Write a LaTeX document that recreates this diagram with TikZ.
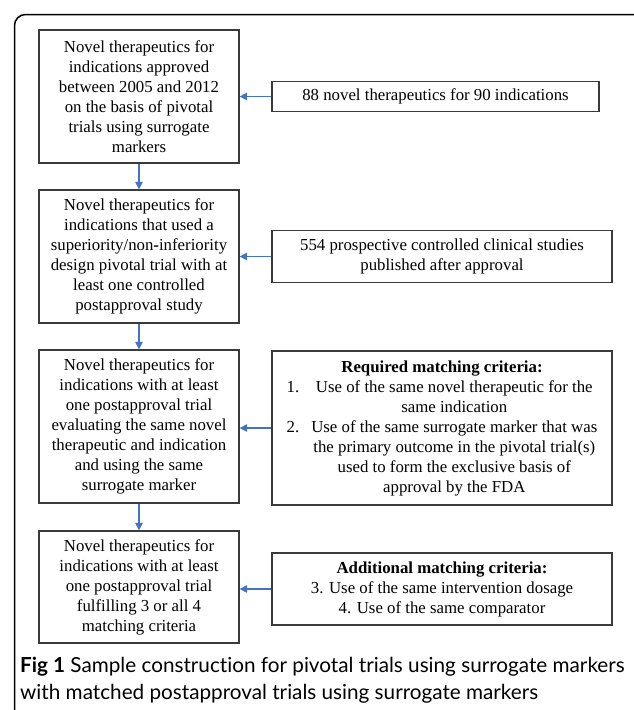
\documentclass[tikz,border=0pt]{standalone}
\usepackage{fontspec}
\setmainfont{Liberation Serif}
\newfontfamily\capfont[Ligatures=NoCommon]{Lato}
\usetikzlibrary{arrows.meta}
\definecolor{arrowblue}{HTML}{4472C4}
\definecolor{boxline}{HTML}{3A3A3A}
\begin{document}
\begin{tikzpicture}[x=1pt,y=-1pt,
  box/.style={draw=boxline, line width=1.2pt, align=center, inner sep=0pt,
    font=\fontsize{16.8}{20}\selectfont},
  flow/.style={draw=arrowblue, line width=1.1pt, -{Triangle[length=7.5pt,width=7.5pt]}},
  frame/.style={draw=black, line width=1.5pt, rounded corners=11pt},
  captext/.style={anchor=base west, inner sep=0pt, font=\capfont\fontsize{20.7}{26}\selectfont}]
\useasboundingbox (0,0) rectangle (633,710);
\draw[frame] (14.5,730) -- (14.5,14.5) -- (650,14.5);

% left column
\node[box, minimum width=200pt, minimum height=133pt] (b1) at (139,96.5)
  {Novel therapeutics for\\indications approved\\between 2005 and 2012\\on the basis of pivotal\\trials using surrogate\\markers};
\node[box, minimum width=200pt, minimum height=133pt] (b2) at (139,256.5)
  {Novel therapeutics for\\indications that used a\\superiority/non\textbf{-}inferiority\\design pivotal trial with at\\least one controlled\\postapproval study};
\node[box, minimum width=200pt, minimum height=153pt] (b3) at (139,426.5)
  {Novel therapeutics for\\indications with at least\\one postapproval trial\\evaluating the same novel\\therapeutic and indication\\and using the same\\surrogate marker};
\node[box, minimum width=200pt, minimum height=112pt] (b4) at (139,587)
  {Novel therapeutics for\\indications with at least\\one postapproval trial\\fulfilling 3 or all 4\\matching criteria};

% right column
\node[box, minimum width=327pt, minimum height=30pt] (r1) at (435.5,96.5)
  {88 novel therapeutics for 90 indications};
\node[box, minimum width=340pt, minimum height=52pt] (r2) at (442,256.5)
  {554 prospective controlled clinical studies\\published after approval};
\node[box, minimum width=340pt, minimum height=154pt] (r3) at (442,428)
  {\begin{tabular}{@{}r@{\hspace{12pt}}c@{}}
   \multicolumn{2}{c}{\textbf{Required matching criteria:}}\\
   1. & Use of the same novel therapeutic for the\\
      & same indication\\
   2. & Use of the same surrogate marker that was\\
      & the primary outcome in the pivotal trial(s)\\
      & used to form the exclusive basis of\\
      & approval by the FDA
   \end{tabular}};
\node[box, minimum width=340pt, minimum height=72pt] (r4) at (442,589)
  {\textbf{Additional matching criteria:}\\3. Use of the same intervention dosage\\4. Use of the same comparator};

% connectors
\draw[flow] (b1) -- (b2);
\draw[flow] (b2) -- (b3);
\draw[flow] (b3) -- (b4);
\draw[flow] (r1.west) -- (r1.west -| b1.east);
\draw[flow] (r2.west) -- (r2.west -| b2.east);
\draw[flow] (r3.west) -- (r3.west -| b3.east);
\draw[flow] (r4.west) -- (r4.west -| b4.east);

% caption
\node[captext] (cap1) at (20,672)
  {\textbf{Fig 1} Sample construction for pivotal trials using surrogate markers};
\node[captext] (cap2) at (20,699)
  {with matched postapproval trials using surrogate markers};
\end{tikzpicture}
\end{document}
